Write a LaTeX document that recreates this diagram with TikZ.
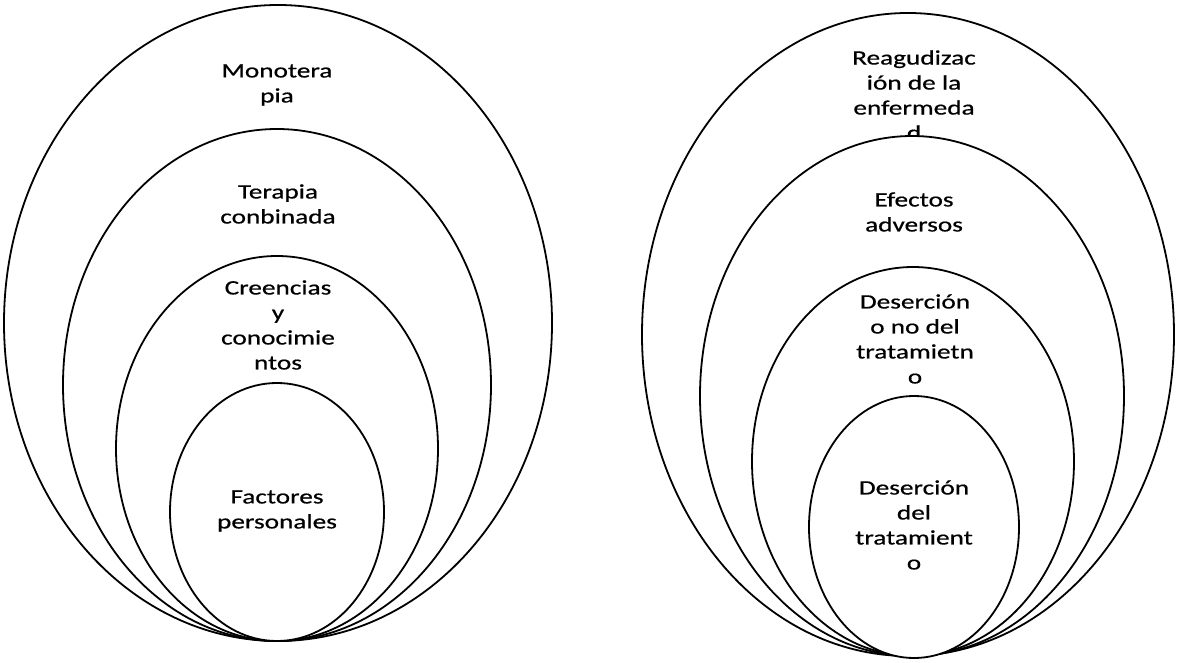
\documentclass[tikz,border=0pt]{standalone}
\usepackage{fontspec}
\setmainfont[FakeStretch=1.33,FakeBold=0.6]{Carlito}
\usetikzlibrary{shapes.geometric}
\begin{document}
\begin{tikzpicture}[x=1pt,y=-1pt,
  ring/.style={draw=black, line width=1.8pt, fill=white, ellipse, inner sep=0pt, outer sep=0pt},
  lbl/.style={align=center, font=\fontsize{20.5}{25}\selectfont, inner sep=0pt}]
\useasboundingbox (0,0) rectangle (1179,663);
% left set
\node[ring, minimum width=548pt, minimum height=636pt] (L1) at (278,323) {};
\node[lbl] (tL1) at (277,85) {Monotera\\pia};
\node[ring, minimum width=428pt, minimum height=512pt] (L2) at (277,385) {};
\node[lbl] (tL2) at (278,204) {Terapia\\conbinada};
\node[ring, minimum width=322pt, minimum height=385pt] (L3) at (277,448.5) {};
\node[lbl] (tL3) at (278,325) {Creencias\\y\\conocimie\\ntos};
\node[ring, minimum width=214pt, minimum height=258pt] (L4) at (277,512) {};
\node[lbl] (tL4) at (277,511) {Factores\\personales};
% right set
\node[ring, minimum width=532pt, minimum height=643pt] (R1) at (908,334.5) {};
\node[lbl] (tR1) at (914,95) {Reagudizac\\ión de la\\enfermeda\\d};
\node[ring, minimum width=424pt, minimum height=520pt] (R2) at (912,396) {};
\node[lbl] (tR2) at (914,212) {Efectos\\adversos};
\node[ring, minimum width=322pt, minimum height=389pt] (R3) at (913,461.5) {};
\node[lbl] (tR3) at (915,339) {Deserción\\o no del\\tratamietn\\o};
\node[ring, minimum width=210pt, minimum height=262pt] (R4) at (914,527) {};
\node[lbl] (tR4) at (914,525) {Deserción\\del\\tratamient\\o};
\end{tikzpicture}
\end{document}
